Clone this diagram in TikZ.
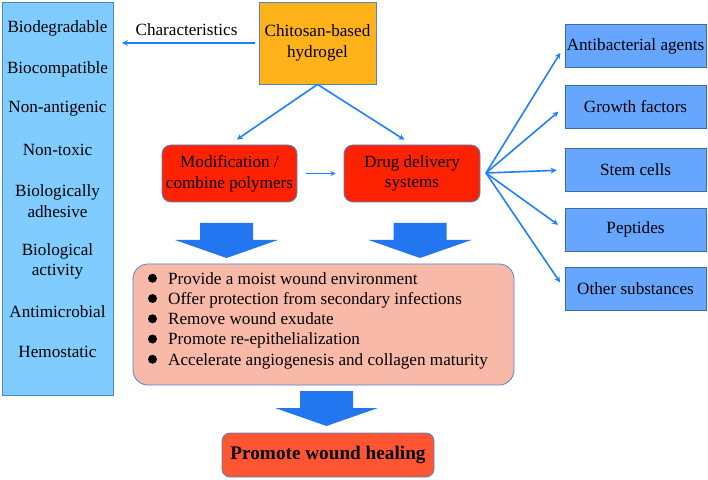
\documentclass[tikz,border=0pt]{standalone}
\usepackage{fontspec}
\setmainfont{Liberation Serif}
\usepackage{tikz}
\usetikzlibrary{calc}
\usetikzlibrary{positioning}

\definecolor{skyblue}{HTML}{80CCFF}
\definecolor{edgeblue}{HTML}{4A86D0}
\definecolor{arrowblue}{HTML}{1E80FF}
\definecolor{chitosan}{HTML}{FFB21A}
\definecolor{redbox}{HTML}{FF2200}
\definecolor{itembox}{HTML}{66A6FF}
\definecolor{pinkbox}{HTML}{F9B9A9}
\definecolor{healbox}{HTML}{FF5533}
\definecolor{blockblue}{HTML}{2277F0}

% big downward block arrow, #1 = middle of its top edge
\newcommand{\downblock}[1]{%
  \fill[blockblue] ($(#1)+(-26.5,0)$) -- ++(53,0) -- ++(0,17) -- ++(25,0)
    -- ++(-51.5,18) -- ++(-51.5,-18) -- ++(25,0) -- cycle;}

\begin{document}
\begin{tikzpicture}[x=1bp,y=-1bp,
  font=\fontsize{17.2}{20.8}\selectfont,
  box/.style={draw=edgeblue,line width=0.8bp,inner sep=0pt,align=center},
  link/.style={draw=arrowblue,line width=1.6bp,-stealth}]
  \useasboundingbox (0,0) rectangle (708,480);

  % properties column
  \node[box,fill=skyblue,minimum width=111bp,minimum height=393bp] (props) at (57.5,198.5) {};
  \foreach \name/\y/\txt in {degr/28/Biodegradable, compat/69/Biocompatible,
      antig/109/Non-antigenic, tox/150/Non-toxic, adh/201/{Biologically\\adhesive},
      act/261.5/{Biological\\activity}, micro/312/Antimicrobial, hemo/352/Hemostatic}{%
    \node[align=center] (p-\name) at (57.5,\y) {\txt};
  }

  \node[box,fill=chitosan,minimum width=117bp,minimum height=82bp] (hydrogel) at (317.5,43) {Chitosan-based\\hydrogel};
  \coordinate (charend) at (122,43);
  \draw[link,shorten <=4bp] (hydrogel.west) -- (charend);
  \node (charlabel) at (186.5,30) {Characteristics};

  \node[box,fill=redbox,rounded corners=9bp,minimum width=135bp,minimum height=57bp] (modif) at (229.5,173.5) {Modification /\\combine polymers};
  \node[box,fill=redbox,rounded corners=9bp,minimum width=136bp,minimum height=57bp] (delivery) at (412,173.5) {Drug delivery\\systems};
  \draw[link,shorten >=9bp] (hydrogel.south) -- (modif.north);
  \draw[link,shorten >=9bp] (hydrogel.south) -- (delivery.north);
  \draw[link,line width=1.3bp,shorten <=9bp,shorten >=8bp] (modif.east) -- (delivery.west);

  % delivered substances
  \coordinate (fan) at (486,173);
  \foreach \name/\y/\txt in {antib/46/Antibacterial agents, growth/106.5/Growth factors,
      stem/170/Stem cells, pept/229.5/Peptides, other/289/Other substances}{%
    \node[box,draw=edgeblue!80!black,fill=itembox,minimum width=141bp,minimum height=43bp] (\name) at (635.5,\y) {\txt};
    \draw[link,shorten >=8bp] (fan) -- (\name.west);
  }

  \coordinate (blkL) at (226.5,223);
  \coordinate (blkR) at (420,223);
  \coordinate (blkB) at (326.5,391);
  \downblock{blkL}
  \downblock{blkR}
  \downblock{blkB}

  % effects
  \node[box,fill=pinkbox,rounded corners=15bp,minimum width=381bp,minimum height=121bp] (effects) at (323.5,324.5) {};
  \foreach \txt [count=\i] in {Provide a moist wound environment,
      Offer protection from secondary infections, Remove wound exudate,
      Promote re-epithelialization, Accelerate angiogenesis and collagen maturity}{%
    \fill (152.5,{258+20.25*\i}) circle (4.5bp);
    \node[anchor=west,inner sep=0pt,text height=11bp,text depth=3.5bp] (item-\i) at (168,{260+20.25*\i}) {\txt};
  }

  \node[box,fill=healbox,rounded corners=8bp,minimum width=212bp,minimum height=44bp,
    font=\fontsize{19.3}{23}\selectfont\bfseries] (healing) at (328,455) {Promote wound healing};
\end{tikzpicture}
\end{document}
